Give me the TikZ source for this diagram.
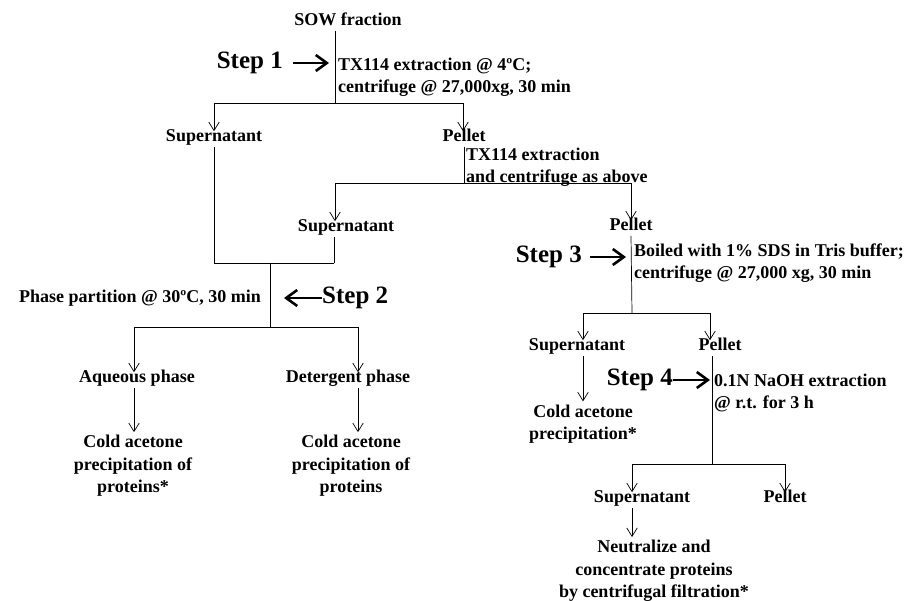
\documentclass[tikz,border=0pt]{standalone}
\usepackage{fontspec}
\setmainfont{Liberation Serif}
\usetikzlibrary{arrows.meta}

\begin{document}
\begin{tikzpicture}[
    x=1pt, y=1pt,
    font=\bfseries\fontsize{18}{22.5}\selectfont,
    tag/.style={inner xsep=1pt, inner ysep=3pt, yshift=-2pt, text height=0.7em, text depth=0.22em},
    lbl/.style={inner xsep=1pt, inner ysep=3pt, yshift=-2pt, align=center},
    note/.style={inner sep=1pt, yshift=-2pt, align=left, anchor=west},
    steplbl/.style={inner sep=0pt, font=\bfseries\fontsize{25}{30}\selectfont},
    link/.style={draw=black, line width=0.7pt},
    flow/.style={-{Straight Barb[length=8.5pt,width=10.5pt,line width=0.7pt]}, draw=black, line width=0.7pt},
    stepto/.style={-{Straight Barb[length=11pt,width=16pt,line width=2.6pt]}, draw=black, line width=2.4pt},
]
\useasboundingbox (0,0) rectangle (915,-601);

% ── Start + Step 1 ───────────────────────────────────────────────────
\node[tag] (sow) at (348,-21) {SOW fraction};
\node[steplbl, anchor=east] (step1) at (283,-63) {Step 1};
\node[note] (ext1) at (337,-75) {TX114 extraction @ 4ºC;\\centrifuge @ 27,000xg, 30 min};
\coordinate (s1) at (335,-103);

\node[tag] (sup1) at (214,-137) {Supernatant};
\node[tag] (pel1) at (464,-137) {Pellet};

% ── Second extraction of the pellet ──────────────────────────────────
\node[note] (ext2) at (465,-165) {TX114 extraction\\and centrifuge as above};
\coordinate (s2) at (464,-183);
\node[tag] (sup2) at (346,-227) {Supernatant};
\node[tag] (pel2) at (631,-226) {Pellet};

% ── Step 2: phase partition ──────────────────────────────────────────
\coordinate (m1) at (334,-263);
\coordinate (s3) at (270,-327);
\node[tag, anchor=east] (part) at (262,-298) {Phase partition @ 30ºC, 30 min};
\node[steplbl, anchor=west] (step2) at (322,-298) {Step 2};
\node[tag] (aq)  at (137,-378) {Aqueous phase};
\node[tag] (det) at (348,-378) {Detergent phase};
\node[lbl] (prec1) at (133,-464) {Cold acetone\\precipitation of\\proteins*};
\node[lbl] (prec2) at (351,-464) {Cold acetone\\precipitation of\\proteins};

% ── Step 3: SDS ──────────────────────────────────────────────────────
\node[steplbl, anchor=east] (step3) at (582,-257) {Step 3};
\node[note] (boil) at (633,-261) {Boiled with 1\% SDS in Tris buffer;\\centrifuge @ 27,000 xg, 30 min};
\coordinate (s4) at (632,-313);
\node[tag] (sup3) at (577,-346) {Supernatant};
\node[tag] (pel3) at (720,-346) {Pellet};
\node[lbl] (prec3) at (583,-422) {Cold acetone\\precipitation*};

% ── Step 4: NaOH ─────────────────────────────────────────────────────
\node[steplbl, anchor=east] (step4) at (673,-380) {Step 4};
\node[note] (naoh) at (713,-391) {0.1N NaOH extraction\\@ r.t. for 3 h};
\coordinate (s5) at (712,-464);
\node[tag] (sup4) at (642,-498) {Supernatant};
\node[tag] (pel4) at (785,-498) {Pellet};
\node[lbl] (neut) at (654,-569) {Neutralize and\\concentrate proteins\\by centrifugal filtration*};

% ── Edges ────────────────────────────────────────────────────────────
\draw[link] (sow.south -| s1) -- (s1);
\draw[stepto, shorten <=10pt, shorten >=6pt] (step1.east) -- (s1 |- step1.east);
\draw[flow] (s1) -| (sup1.north);
\draw[flow] (s1) -| ([xshift=-1pt]pel1.north);

\draw[link] (pel1.south) -- (s2);
\draw[flow] (s2) -| ([xshift=-11pt]sup2.north);
\draw[flow] (s2) -| (pel2.north);

% supernatants pooled
\draw[link] (sup1.south) |- (m1);
\draw[link] ([xshift=-12pt]sup2.south) -- (m1);
\draw[link] (s3 |- m1) -- (s3);
\draw[stepto, shorten >=14pt] (step2.west) -- (s3 |- step2.west);
\draw[flow] (s3) -| ([xshift=-3pt]aq.north);
\draw[flow] (s3) -| ([xshift=10pt]det.north);
\draw[flow] ([xshift=-3pt]aq.south) -- ([xshift=1pt]prec1.north);
\draw[flow] ([xshift=10pt]det.south) -- ([xshift=7pt]prec2.north);

% pellet -> SDS -> NaOH
\draw[link] (pel2.south) -- (s4);
\draw[stepto, shorten <=8pt, shorten >=6pt] (step3.east) -- (s4 |- step3.east);
\draw[flow] (s4) -| ([xshift=6pt]sup3.north);
\draw[flow] (s4) -| ([xshift=-10pt]pel3.north);
\draw[flow] ([xshift=6pt]sup3.south) -- (prec3.north);

\draw[link] ([xshift=-8pt]pel3.south) -- (s5);
\draw[stepto, shorten >=2pt] (step4.east) -- (s5 |- step4.east);
\draw[flow] (s5) -| ([xshift=-10pt]sup4.north);
\draw[flow] (s5) -| (pel4.north);
\draw[flow] ([xshift=-10pt]sup4.south) -- ([xshift=-22pt]neut.north);

\end{tikzpicture}
\end{document}
